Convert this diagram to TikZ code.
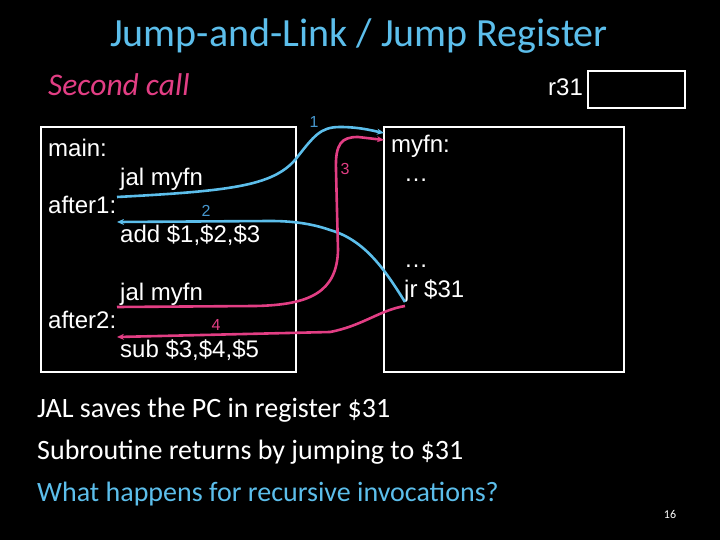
\documentclass[tikz,border=0pt]{standalone}
\usepackage{fontspec}
\setmainfont{Carlito}
\newfontfamily\codefont{Liberation Sans}
\usetikzlibrary{arrows.meta,positioning}
\definecolor{sky}{RGB}{92,190,235}
\definecolor{skydark}{RGB}{70,150,205}
\definecolor{rose}{RGB}{226,62,132}

\begin{document}
\begin{tikzpicture}[x=1pt,y=-1pt,
  code/.style={font=\codefont\fontsize{24}{24}\selectfont,text=white,anchor=base west,inner sep=0pt},
  bullet/.style={font=\fontsize{28}{28}\selectfont,text=white,anchor=base west,inner sep=0pt},
  frame/.style={draw=white,line width=1.2pt},
  num/.style={font=\codefont\fontsize{16}{16}\selectfont,inner sep=0pt},
  blueflow/.style={-{Stealth[length=7pt,width=6pt]},draw=sky,line width=2.6pt},
  pinkflow/.style={-{Stealth[length=7pt,width=6pt]},draw=rose,line width=2.6pt}]
\fill[black] (0,0) rectangle (720,540);
\useasboundingbox (0,0) rectangle (720,540);
% headings
\node[font=\fontsize{40}{40}\selectfont,text=sky,anchor=base,inner sep=0pt] (title) at (359,47) {Jump-and-Link / Jump Register};
\node[font=\itshape\fontsize{31.5}{31.5}\selectfont,text=rose,anchor=base west,inner sep=0pt] (sub) at (48,96) {Second call};
\node[code] (r31lbl) at (548,96) {r31};
\draw[frame] (588,71) rectangle (685,108);
% the two code boxes
\draw[frame] (41,127) rectangle (296,372);
\draw[frame] (384,127) rectangle (624,372);
\node[code] (lmain) at (48,157) {main:};
\node[code] (ljalA) at (120,186) {jal myfn};
\node[code] (lafterA) at (48,214) {after1:};
\node[code] (ladd) at (120,243) {add \$1,\$2,\$3};
\node[code] (ljalB) at (120,300) {jal myfn};
\node[code] (lafterB) at (48,328) {after2:};
\node[code] (lsub) at (120,357) {sub \$3,\$4,\$5};
\node[code] (lmyfn) at (391,153) {myfn:};
\node[code] (ldotsA) at (404,182) {\dots};
\node[code] (ldotsB) at (404,267) {\dots};
\node[code] (ljr) at (404,297) {jr \$31};
% arrow ends
\coordinate (callA) at (117,197);
\coordinate (retA) at (117,222);
\coordinate (callB) at (117,307);
\coordinate (retB) at (117,337);
\coordinate (entryA) at (384,133);
\coordinate (entryB) at (384,140);
\coordinate (jrA) at (405,302);
\coordinate (jrB) at (405,306);
% control flow
\draw[blueflow] (callA) .. controls (230,191) and (272,186) .. (295,160) .. controls (314,136) and (320,127) .. (340,127) .. controls (360,127) and (374,131) .. (entryA);
\draw[blueflow] (jrA) .. controls (385,270) and (365,240) .. (330,230) .. controls (310,223) and (290,221) .. (270,221) -- (retA);
\draw[pinkflow] (callB) -- (255,306) .. controls (310,305) and (337,292) .. (338,250) -- (336,170) .. controls (335,143) and (342,137) .. (358,137) -- (entryB);
\draw[pinkflow] (jrB) .. controls (380,310) and (362,326) .. (330,332) -- (retB);
\node[num,text=skydark] (n1) at (314,122) {1};
\node[num,text=skydark] (n2) at (206,211) {2};
\node[num,text=rose] (n3) at (345,169) {3};
\node[num,text=rose] (n4) at (216,325) {4};
% notes
\node[bullet] (noteA) at (37,417) {JAL saves the PC in register \$31};
\node[bullet] (noteB) at (37,459) {Subroutine returns by jumping to \$31};
\node[bullet,text=sky] (noteC) at (37,501) {What happens for recursive invocations?};
\node[font=\fontsize{12}{12}\selectfont,text=white,inner sep=0pt] (page) at (670,514) {16};
\end{tikzpicture}
\end{document}
